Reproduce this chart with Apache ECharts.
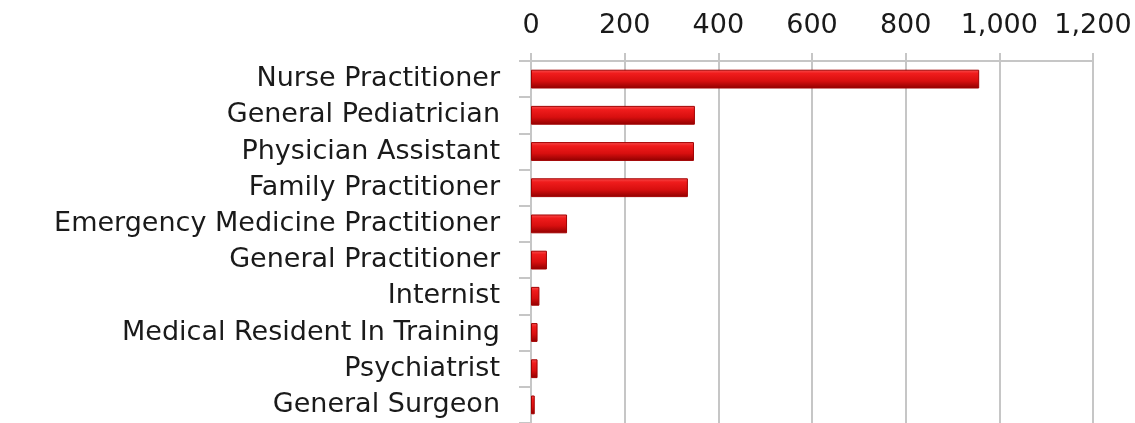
<!DOCTYPE html>
<html><head><meta charset="utf-8">
<script src="https://cdn.jsdelivr.net/npm/echarts@6/dist/echarts.min.js"></script>
<style>html,body{margin:0;padding:0;background:#fff}#c{width:1135px;height:423px}</style>
</head><body><div id="c"></div>
<script>
const categories = ["Nurse Practitioner","General Pediatrician","Physician Assistant","Family Practitioner","Emergency Medicine Practitioner","General Practitioner","Internist","Medical Resident In Training","Psychiatrist","General Surgeon"];
const values = [957, 350, 348, 335, 77, 34, 18, 14, 14, 8];
const xTicks = {min: 0, max: 1200, interval: 200};

const FONT = "DejaVu Sans";
const chart = echarts.init(document.getElementById('c'), null, {renderer: 'canvas'});
chart.setOption({
  animation: false,
  grid: {left: 531, right: 42, top: 61, bottom: -1, containLabel: false},
  xAxis: {
    type: 'value', position: 'top', min: xTicks.min, max: xTicks.max, interval: xTicks.interval,
    axisLine: {show: true, lineStyle: {color: '#c6c6c6', width: 2}},
    axisTick: {show: true, length: 8, lineStyle: {color: '#c6c6c6', width: 2}},
    splitLine: {show: true, lineStyle: {color: '#c6c6c6', width: 2}},
    axisLabel: {fontFamily: FONT, fontSize: 27, color: '#1a1a1a', margin: 22,
      formatter: v => v.toLocaleString('en-US')}
  },
  yAxis: {
    type: 'category', inverse: true, data: categories,
    axisLine: {show: true, lineStyle: {color: '#c6c6c6', width: 2}},
    axisTick: {show: true, length: 12, lineStyle: {color: '#c6c6c6', width: 2}},
    axisLabel: {fontFamily: FONT, fontSize: 27, color: '#1a1a1a', margin: 31}
  },
  series: [{
    type: 'bar', data: values, barWidth: '52%',
    itemStyle: {
      color: new echarts.graphic.LinearGradient(0, 0, 0, 1, [
        {offset: 0, color: '#f75050'},
        {offset: 0.2, color: '#f01c1c'},
        {offset: 0.6, color: '#d80f0f'},
        {offset: 1, color: '#8e0000'}
      ]),
      borderColor: '#a30000', borderWidth: 1
    }
  }]
});
</script></body></html>
